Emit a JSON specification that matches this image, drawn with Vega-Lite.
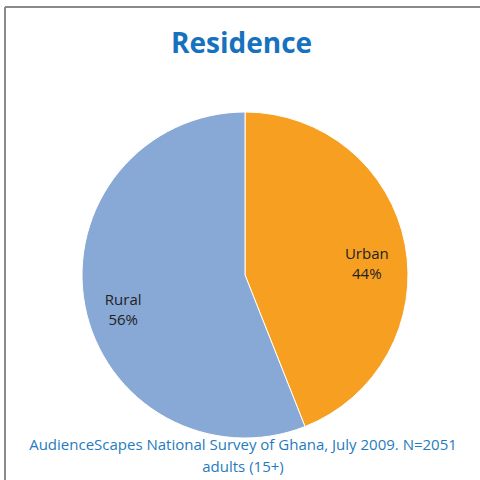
{
  "$schema": "https://vega.github.io/schema/vega-lite/v6.json",
  "autosize": "none",
  "width": 475,
  "height": 473,
  "padding": {"left": 5, "top": 7, "right": 0, "bottom": 0},
  "background": "white",
  "view": {"stroke": null, "fill": "white"},
  "title": {
    "text": "Residence",
    "font": "Open Sans",
    "fontSize": 28,
    "fontWeight": "bold",
    "color": "#1672BE",
    "anchor": "start",
    "frame": "group",
    "baseline": "top",
    "dx": 166,
    "offset": -53
  },
  "data": {
    "values": [
      {"area": "Urban", "pct": 44, "order": 1},
      {"area": "Rural", "pct": 56, "order": 2}
    ]
  },
  "transform": [{"calculate": "datum.area + '\\n' + datum.pct + '%'", "as": "label"}],
  "layer": [
    {
      "data": {"values": [{"edge": "frame"}]},
      "mark": {"type": "rule", "color": "#8a8a8a", "strokeWidth": 2},
      "encoding": {"x": {"value": 0}, "x2": {"value": 480}, "y": {"value": 0}, "y2": {"value": 0}}
    },
    {
      "data": {"values": [{"edge": "frame"}]},
      "mark": {"type": "rule", "color": "#8a8a8a", "strokeWidth": 2},
      "encoding": {"x": {"value": 0}, "x2": {"value": 0}, "y": {"value": 0}, "y2": {"value": 480}}
    },
    {
      "mark": {"type": "arc", "x": 240, "y": 268, "outerRadius": 163, "stroke": "white", "strokeWidth": 1},
      "encoding": {
        "theta": {"field": "pct", "type": "quantitative", "stack": true},
        "order": {"field": "order", "type": "quantitative"},
        "color": {
          "field": "area",
          "type": "nominal",
          "scale": {"domain": ["Urban", "Rural"], "range": ["#F79F21", "#88A8D5"]},
          "legend": null
        }
      }
    },
    {
      "mark": {"type": "text", "x": 240, "y": 270, "radius": 124, "font": "Open Sans", "fontSize": 15, "color": "#222222", "lineBreak": "\n", "lineHeight": 20, "align": "center", "baseline": "middle"},
      "encoding": {
        "theta": {"field": "pct", "type": "quantitative", "stack": true},
        "order": {"field": "order", "type": "quantitative"},
        "text": {"field": "label", "type": "nominal"}
      }
    },
    {
      "data": {"values": [{"note": "AudienceScapes National Survey of Ghana, July 2009. N=2051\nadults (15+)"}]},
      "mark": {"type": "text", "x": 238, "y": 438, "font": "Open Sans", "fontSize": 15, "color": "#1F7BC0", "lineBreak": "\n", "lineHeight": 22, "align": "center", "baseline": "middle"},
      "encoding": {"text": {"field": "note", "type": "nominal"}}
    }
  ]
}
